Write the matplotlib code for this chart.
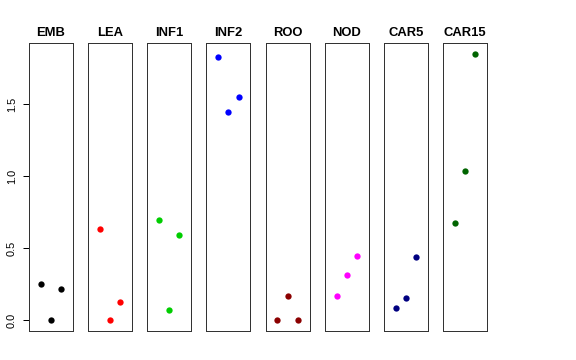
import matplotlib
matplotlib.use("Agg")
import matplotlib.pyplot as plt

tissues = ["EMB", "LEA", "INF1", "INF2", "ROO", "NOD", "CAR5", "CAR15"]
colors = ["#000000", "#FF0000", "#00CD00", "#0000FF", "#8B0000", "#FF00FF", "#000080", "#006400"]
rep_x = [1, 2, 3]
values = {
    "EMB":   [0.252, 0.0, 0.217],
    "LEA":   [0.636, 0.0, 0.125],
    "INF1":  [0.697, 0.072, 0.595],
    "INF2":  [1.824, 1.447, 1.549],
    "ROO":   [0.0, 0.169, 0.0],
    "NOD":   [0.169, 0.317, 0.444],
    "CAR5":  [0.085, 0.155, 0.437],
    "CAR15": [0.674, 1.035, 1.851],
}
yticks = [0.0, 0.5, 1.0, 1.5]
ytick_labels = ["0.0", "0.5", "1.0", "1.5"]

plt.rcParams['font.family'] = ['Liberation Sans', 'DejaVu Sans']
fig = plt.figure(figsize=(8, 5), dpi=72)
W, H = 576, 360
ymin, ymax = -0.074, 1.924
for i, t in enumerate(tissues):
    left = 29 + 59.15 * i
    ax = fig.add_axes([left / W, (360 - 331) / H, 44 / W, 288 / H])
    ax.plot(rep_x, values[t], 'o', color=colors[i], markersize=6.3, markeredgewidth=0)
    ax.set_xlim(-0.16, 4.16)
    ax.set_ylim(ymin, ymax)
    ax.set_xticks([])
    for s in ax.spines.values():
        s.set_color('#333333')
        s.set_linewidth(1)
    ax.set_title(t, fontsize=13, fontweight='bold', pad=7)
    if i == 0:
        ax.set_yticks(yticks)
        ax.set_yticklabels(ytick_labels, rotation=90, va='center', fontsize=11)
        ax.tick_params(axis='y', length=6, width=1, pad=6)
    else:
        ax.set_yticks([])
fig.savefig("out.png", dpi=72)
